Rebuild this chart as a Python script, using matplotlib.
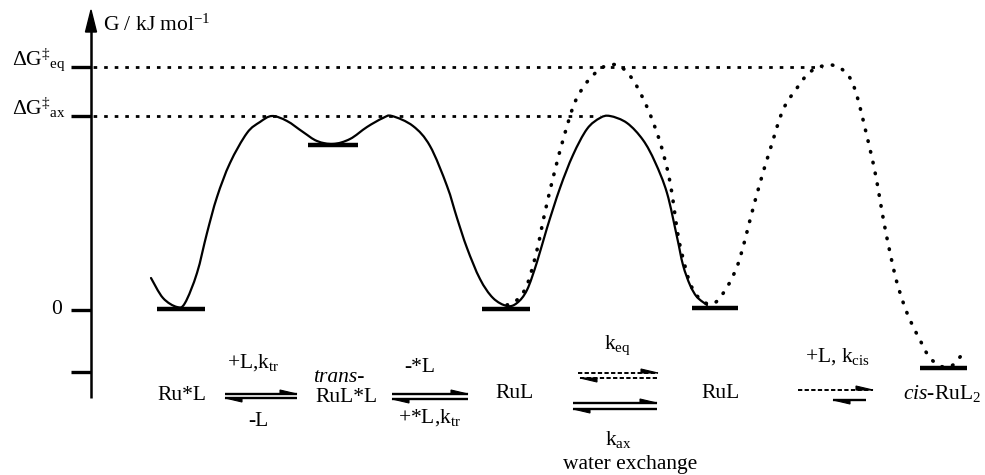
import numpy as np
import matplotlib
matplotlib.use("Agg")
import matplotlib.pyplot as plt
from matplotlib.path import Path
from matplotlib.patches import PathPatch, Polygon

plt.rcParams['font.family'] = ['Liberation Serif', 'DejaVu Serif']
plt.rcParams['mathtext.fontset'] = 'custom'
plt.rcParams['mathtext.rm'] = 'Liberation Serif'
plt.rcParams['mathtext.it'] = 'Liberation Serif:italic'
plt.rcParams['mathtext.bf'] = 'Liberation Serif:bold'

# ---------------- data (reaction coordinate, free energy G in arbitrary units) ----
G_zero = 0
G_ax = 194          # ΔG‡ax
G_eq = 243          # ΔG‡eq
G_low_tick = -62

# axial (solid) profile: Ru*L -> trans-RuL*L -> RuL -> RuL
solid_x = [151, 163, 177, 185, 197, 207, 217, 230, 247, 260, 272, 287, 303, 317,
           333, 350, 367, 383, 392, 413, 430, 447, 457, 467, 480, 493, 507, 517,
           527, 537, 547, 560, 573, 587, 600, 610, 627, 643, 655, 667, 677, 683,
           690, 697, 707]
solid_G = [32, 12, 3, 7, 37, 77, 113, 147, 177, 188, 194, 189, 178, 169,
           166, 171, 183, 192, 194, 184, 164, 124, 92, 62, 31, 12, 4, 7,
           20, 48, 82, 122, 155, 181, 192, 194, 187, 170, 148, 117, 73, 45,
           25, 13, 5]

# equatorial (dotted) profile: RuL -> RuL -> cis-RuL2
dot_x = [507, 517, 527, 537, 545, 555, 565, 575, 587, 600, 610, 620, 633, 647,
         660, 670, 678, 684, 690, 698, 708, 716, 724, 732, 740, 750, 760, 770,
         783, 797, 810, 827, 840, 850, 857, 865, 875, 885, 895, 903, 910, 920,
         930, 943, 953, 960, 967]
dot_G = [5, 10, 25, 60, 98, 140, 177, 208, 228, 241, 245, 244, 230, 203,
         168, 128, 75, 48, 27, 13, 6, 8, 18, 32, 52, 90, 127, 160,
         200, 222, 238, 245, 242, 232, 214, 182, 138, 82, 35, 8, -10, -30,
         -48, -57, -55, -47, -40]

# energy levels of species: (x_left, x_right, G)
level_x0 = [157, 308, 482, 692, 920]
level_x1 = [205, 358, 530, 738, 967]
level_G = [1, 165, 1, 2, -58]

# ---------------- figure ----------------
fig = plt.figure(figsize=(9.85, 4.75), dpi=100)
ax = fig.add_axes([0, 0, 1, 1])
ax.set_xlim(0, 985)
ax.set_ylim(-165, 310)
ax.axis('off')


def smooth_path(xs, ys):
    pts = np.column_stack([xs, ys]).astype(float)
    verts = [pts[0]]
    codes = [Path.MOVETO]
    n = len(pts)
    for i in range(n - 1):
        p0 = pts[i - 1] if i > 0 else pts[i]
        p1 = pts[i]
        p2 = pts[i + 1]
        p3 = pts[i + 2] if i + 2 < n else pts[i + 1]
        c1 = p1 + (p2 - p0) / 6.0
        c2 = p2 - (p3 - p1) / 6.0
        verts += [c1, c2, p2]
        codes += [Path.CURVE4] * 3
    return Path(verts, codes)


ax.add_patch(PathPatch(smooth_path(solid_x, solid_G), fill=False, lw=1.6,
                       color='black', capstyle='round', joinstyle='round'))
ax.add_patch(PathPatch(smooth_path(dot_x, dot_G), fill=False, lw=2.6,
                       color='black', linestyle=(0, (0.15, 2.9)),
                       capstyle='round'))

# energy levels
ax.hlines(level_G, level_x0, level_x1, colors='black', lw=3.2)

# axis with arrow
AX_X = 91
ax.plot([AX_X, AX_X], [-88, 280], color='black', lw=1.8, solid_capstyle='butt')
ax.add_patch(Polygon([[AX_X - 5.5, 278], [AX_X + 5.5, 278], [AX_X, 300]],
                     closed=True, color='black'))
for g in [G_eq, G_ax, G_zero, G_low_tick]:
    ax.plot([71, AX_X], [g, g], color='black', lw=2.4, solid_capstyle='butt')

# dotted reference lines
ax.plot([72, 822], [G_eq, G_eq], color='black', lw=2.0,
        linestyle=(0, (1.3, 2.5)))
ax.plot([72, 600], [G_ax, G_ax], color='black', lw=2.0,
        linestyle=(0, (1.3, 2.5)))

FS = 15.5
ax.text(103, 285, r'G / kJ mol$^{\mathregular{-1}}$', fontsize=FS, va='center',
        ha='left')
ax.text(12, G_eq + 2, r'$\mathregular{\Delta G}^{\mathregular{‡}}{}_{\mathregular{eq}}$',
        fontsize=FS, va='baseline', ha='left')
ax.text(12, G_ax + 1, r'$\mathregular{\Delta G}^{\mathregular{‡}}{}_{\mathregular{ax}}$',
        fontsize=FS, va='baseline', ha='left')
ax.text(57, 0, '0', fontsize=FS, va='center', ha='center')


def harpoon(x1, x2, g, direction, ls='solid', lw=1.7):
    ax.plot([x1, x2], [g, g], color='black', lw=lw, linestyle=ls,
            solid_capstyle='butt')
    if direction == 'right':
        tri = [[x2, g], [x2 - 17, g + 4], [x2 - 17, g]]
    else:
        tri = [[x1, g], [x1 + 17, g - 4], [x1 + 17, g]]
    ax.add_patch(Polygon(tri, closed=True, color='black', lw=0.8))


DASH = (0, (2.2, 1.2))
harpoon(225, 297, -84, 'right')
harpoon(225, 297, -88, 'left')
harpoon(392, 468, -84, 'right')
harpoon(392, 468, -89, 'left')
harpoon(578, 658, -63, 'right', ls=DASH, lw=1.4)
harpoon(580, 658, -68, 'left', ls=DASH, lw=1.4)
harpoon(573, 657, -93, 'right')
harpoon(573, 657, -99, 'left')
harpoon(798, 873, -80, 'right', ls=DASH, lw=1.4)
harpoon(833, 866, -90, 'left')

# species / rate labels
ax.text(182, -85, 'Ru*L', fontsize=FS, ha='center', va='center')
ax.text(253, -53, r'+L,k$_{\mathregular{tr}}$', fontsize=FS, ha='center', va='center')
ax.text(258, -112, '-L', fontsize=FS, ha='center', va='center')
ax.text(339, -68, 'trans-', fontsize=FS, ha='center', va='center', style='italic')
ax.text(346, -87, 'RuL*L', fontsize=FS, ha='center', va='center')
ax.text(420, -57, '-*L', fontsize=FS, ha='center', va='center')
ax.text(430, -108, r'+*L,k$_{\mathregular{tr}}$', fontsize=FS, ha='center', va='center')
ax.text(515, -83, 'RuL', fontsize=FS, ha='center', va='center')
ax.text(617, -35, r'k$_{\mathregular{eq}}$', fontsize=FS, ha='center', va='center')
ax.text(618, -130, r'k$_{\mathregular{ax}}$', fontsize=FS, ha='center', va='center')
ax.text(630, -155, 'water exchange', fontsize=FS, ha='center', va='center')
ax.text(721, -83, 'RuL', fontsize=FS, ha='center', va='center')
ax.text(838, -47, r'+L, k$_{\mathregular{cis}}$', fontsize=FS, ha='center', va='center')
ax.text(942, -83, r'$\mathit{cis}$-RuL$_{\mathregular{2}}$', fontsize=FS, ha='center',
        va='center')

fig.savefig('out.png', dpi=100)
